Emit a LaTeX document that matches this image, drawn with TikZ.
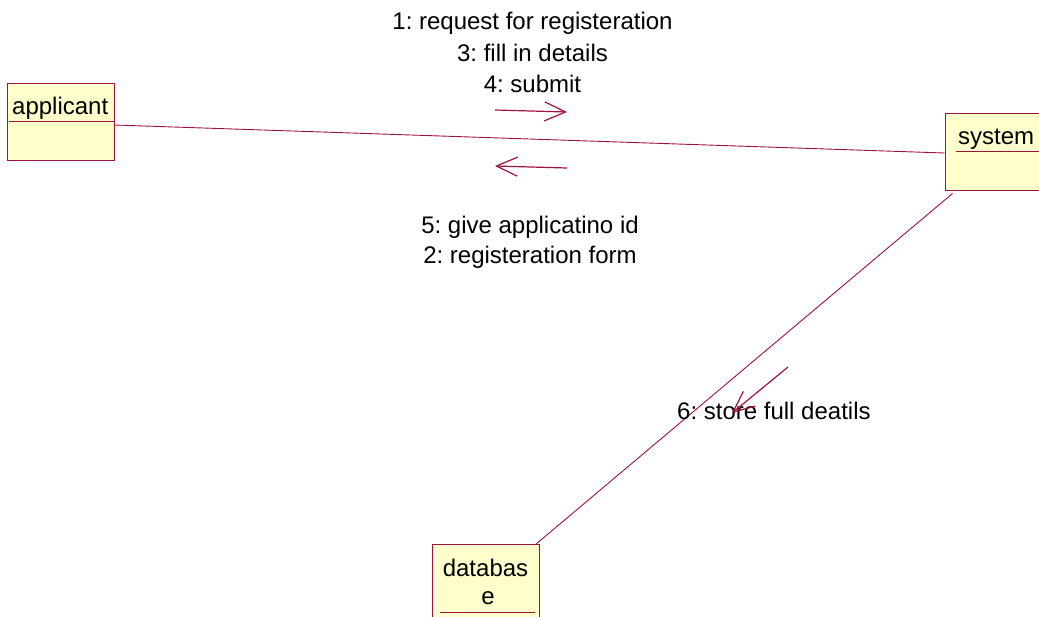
\documentclass[tikz,border=0pt]{standalone}
\usepackage{fontspec}
\setmainfont{Liberation Sans}
\usetikzlibrary{arrows.meta}
\definecolor{rose}{RGB}{160,16,60}
\definecolor{boxfill}{RGB}{255,255,204}
\frenchspacing
\tikzset{
  objbox/.style={draw=rose, fill=boxfill, line width=1pt, minimum width=107pt, minimum height=77pt, inner sep=0pt},
  objname/.style={anchor=base west, inner sep=0pt, font=\fontsize{24}{28}\selectfont\frenchspacing},
  msg/.style={anchor=base, inner sep=0pt, font=\fontsize{24}{28}\selectfont\frenchspacing},
  uline/.style={draw=rose, line width=1pt},
  link/.style={draw=rose, line width=0.9pt},
  msgarrow/.style={draw=rose, line width=1.2pt, -{Straight Barb[length=21pt,width=19pt,line width=1.2pt]}}
}
\begin{document}
\begin{tikzpicture}[x=1pt,y=-1pt]
\useasboundingbox (0,0) rectangle (1039,616);
\clip (0,0) rectangle (1039,616);
% objects
\node[objbox] (applicant) at (60.5,121.5) {};
\node[objname] (applicantT) at (12,114) {applicant};
\draw[uline] (9,121) -- (114,121);
\node[objbox, minimum width=130pt] (system) at (1010,151.5) {};
\node[objname] (systemT) at (958,144) {system};
\draw[uline] (956,151) -- (1050,151);
\node[objbox] (database) at (485.5,582.5) {};
\node[msg] (databaseT1) at (485.5,576) {databas};
\node[msg] (databaseT2) at (488,604) {e};
\draw[uline] (440,612) -- (535,612);
% links
\draw[link] ([yshift=-3.5pt]applicant.east) -- ([yshift=-1.5pt]system.west);
\draw[link] ([xshift=8pt,yshift=-3pt]system.south west) -- ([xshift=-4pt,yshift=-1pt]database.north east);
% messages
\node[msg] (m1) at (532.5,29) {1: request for registeration};
\node[msg] (m3) at (532.5,61) {3: fill in details};
\node[msg] (m4) at (532.5,92) {4: submit};
\coordinate (a1s) at (495,110);
\coordinate (a1e) at (567,112);
\draw[msgarrow] (a1s) -- (a1e);
\coordinate (a2s) at (567,168);
\coordinate (a2e) at (495,166);
\draw[msgarrow] (a2s) -- (a2e);
\node[msg] (m5) at (530,233) {5: give applicatino id};
\node[msg] (m2) at (530,263) {2: registeration form};
\node[objname] (m6) at (677,419) {6: store full deatils};
\coordinate (a3s) at (788,367);
\coordinate (a3e) at (732,413);
\draw[msgarrow] (a3s) -- (a3e);
\end{tikzpicture}
\end{document}
